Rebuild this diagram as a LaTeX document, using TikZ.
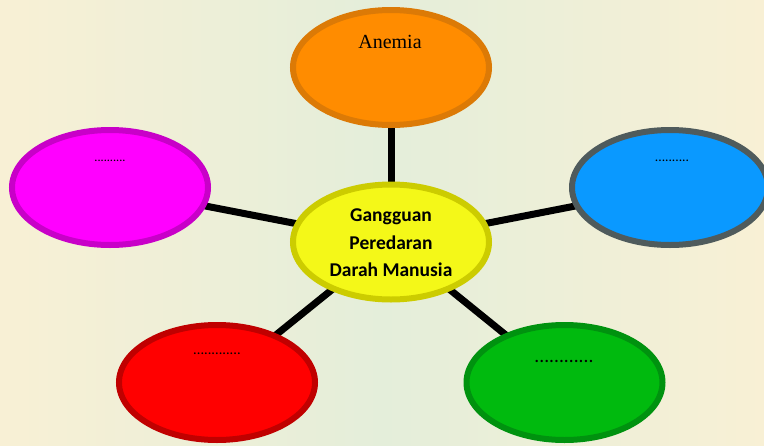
\documentclass[tikz,border=0pt]{standalone}
\usepackage{fontspec}
\setmainfont{Liberation Serif}
\newfontfamily\carlito{Carlito}
\usetikzlibrary{shapes.geometric}
\pgfdeclarelayer{background}
\pgfsetlayers{background,main}
\definecolor{bgcream}{HTML}{F8F0D5}
\definecolor{bggreen}{HTML}{E4EEDA}
\definecolor{orfill}{HTML}{FF8C00}
\definecolor{ordraw}{HTML}{DC7A06}
\definecolor{yefill}{HTML}{F4F818}
\definecolor{yedraw}{HTML}{CCCC00}
\definecolor{mafill}{HTML}{FF00FF}
\definecolor{madraw}{HTML}{C800C8}
\definecolor{blfill}{HTML}{0A99FF}
\definecolor{bldraw}{HTML}{4F5B5C}
\definecolor{refill}{HTML}{FF0000}
\definecolor{redraw}{HTML}{C00000}
\definecolor{grfill}{HTML}{00BA0E}
\definecolor{grdraw}{HTML}{00920F}
\tikzset{
  bubble/.style={ellipse, line width=6pt, minimum width=196pt, minimum height=115pt, inner sep=0pt},
  link/.style={line width=7pt, black},
  dotlbl/.style={anchor=base, inner sep=0pt, font=\carlito},
}
\begin{document}
\begin{tikzpicture}[x=1pt,y=-1pt]
\useasboundingbox (0,0) rectangle (764,445);
% ellipses
\node[bubble, draw=ordraw, fill=orfill] (top) at (391,67.5) {};
\node[bubble, draw=yedraw, fill=yefill] (mid) at (391,242) {};
\node[bubble, draw=madraw, fill=mafill] (left) at (110,187.5) {};
\node[bubble, draw=bldraw, fill=blfill] (right) at (670,187.5) {};
\node[bubble, draw=redraw, fill=refill] (bl) at (217,382.5) {};
\node[bubble, draw=grdraw, fill=grfill] (br) at (564.5,382.5) {};
% texts
\node[inner sep=0pt, font=\fontsize{20}{24}\selectfont] (tanemia) at (390,42) {Anemia};
\node[inner sep=0pt, align=center, font=\carlito\bfseries\fontsize{19.5}{27.5}\selectfont] (tmid) at (391,243) {Gangguan\\Peredaran\\Darah Manusia};
\node[dotlbl, font=\carlito\fontsize{12.3}{14}\selectfont] (tleft) at (110,161) {..........};
\node[dotlbl, font=\carlito\fontsize{13.5}{15}\selectfont] (tright) at (672,161) {..........};
\node[dotlbl, font=\carlito\fontsize{14.5}{16}\selectfont] (tbl) at (217,354) {.............};
\node[dotlbl, font=\carlito\fontsize{19.5}{22}\selectfont] (tbr) at (564,362) {............};
\begin{pgfonlayer}{background}
\shade[left color=bgcream, right color=bgcream, middle color=bggreen] (0,0) rectangle (764,445);
\draw[link] (mid.center) -- (top.center);
\draw[link] (mid.center) -- (left.center);
\draw[link] (mid.center) -- (right.center);
\draw[link] (mid.center) -- (bl.center);
\draw[link] (mid.center) -- (br.center);
\end{pgfonlayer}
\end{tikzpicture}
\end{document}
